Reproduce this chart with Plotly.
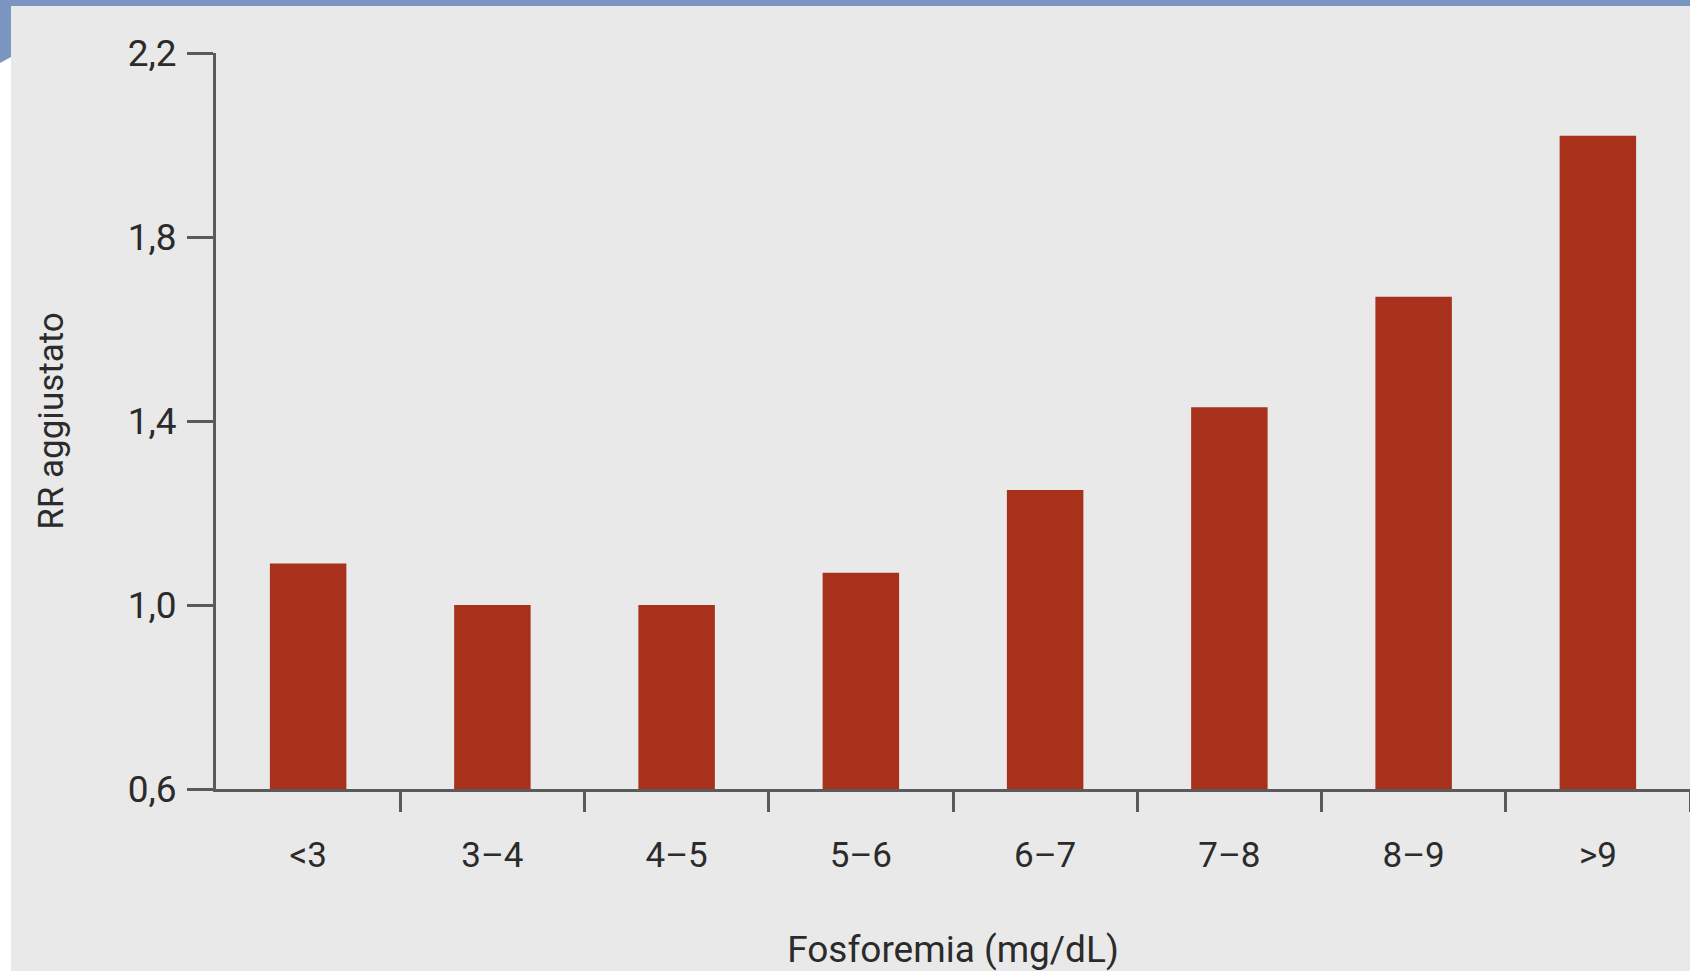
import plotly.graph_objects as go

categories = ["<3", "3–4", "4–5", "5–6", "6–7", "7–8", "8–9", ">9"]
rr_values = [1.09, 1.00, 1.00, 1.07, 1.25, 1.43, 1.67, 2.02]
y_ticks = [0.6, 1.0, 1.4, 1.8, 2.2]
y_tick_labels = ["0,6", "1,0", "1,4", "1,8", "2,2"]
# class boundaries between categories (tick marks, no labels)
boundary_ticks = [0.5, 1.5, 2.5, 3.5, 4.5, 5.5, 6.5, 7.5]

W, H = 1690, 971
L, R, T, B = 216, 0, 53, 182
PW, PH = W - L - R, H - T - B


def px(x):
    return (x - L) / PW


def py(y):
    return (H - B - y) / PH


font_family = "Roboto, 'DejaVu Sans', sans-serif"
text_color = "#2b2b2b"
axis_color = "#5a5a5a"

fig = go.Figure()
fig.add_trace(go.Bar(
    x=categories,
    y=rr_values,
    base=0,
    marker=dict(color="#a8311b", line=dict(width=0)),
    showlegend=False,
))
# helper trace so the boundary-tick axis is drawn
fig.add_trace(go.Scatter(
    x=[None], y=[None], xaxis="x2", yaxis="y",
    mode="markers", showlegend=False, hoverinfo="skip",
))

fig.update_layout(
    width=W,
    height=H,
    margin=dict(l=L, r=R, t=T, b=B, pad=0),
    paper_bgcolor="#e9e9e9",
    plot_bgcolor="#e9e9e9",
    bargap=0.585,
    font=dict(family=font_family, size=36, color=text_color),
    xaxis=dict(
        type="category",
        range=[-0.5, 7.5],
        automargin=False,
        showgrid=False,
        zeroline=False,
        showline=True,
        linecolor=axis_color,
        linewidth=3,
        ticks="",
        ticklabelstandoff=33,
        tickfont=dict(size=35, color=text_color),
        title=dict(text="Fosforemia (mg/dL)", standoff=76,
                   font=dict(size=37, color=text_color)),
    ),
    xaxis2=dict(
        overlaying="x",
        anchor="y",
        side="bottom",
        range=[-0.5, 7.5],
        automargin=False,
        tickvals=boundary_ticks,
        showticklabels=False,
        showgrid=False,
        zeroline=False,
        showline=False,
        ticks="outside",
        ticklen=22,
        tickwidth=2.5,
        tickcolor=axis_color,
    ),
    yaxis=dict(
        range=[0.6, 2.2],
        automargin=False,
        tickvals=y_ticks,
        ticktext=y_tick_labels,
        showgrid=False,
        zeroline=False,
        showline=True,
        linecolor=axis_color,
        linewidth=3,
        ticks="outside",
        ticklen=26,
        tickwidth=2.5,
        tickcolor=axis_color,
        ticklabelstandoff=3,
        tickfont=dict(size=37, color=text_color),
        title=dict(text="RR aggiustato", standoff=54,
                   font=dict(size=35, color=text_color)),
    ),
    shapes=[
        dict(type="rect", xref="paper", yref="paper",
             x0=px(0), x1=px(11), y0=py(H), y1=py(0),
             fillcolor="#ffffff", line=dict(width=0), layer="below"),
        dict(type="rect", xref="paper", yref="paper",
             x0=px(0), x1=px(W), y0=py(6), y1=py(0),
             fillcolor="#7a96c0", line=dict(width=0), layer="above"),
        dict(type="path", xref="paper", yref="paper",
             path=f"M {px(0)},{py(0)} L {px(11)},{py(0)} L {px(11)},{py(57)} L {px(0)},{py(63)} Z",
             fillcolor="#7a96c0", line=dict(width=0), layer="above"),
    ],
)

fig.write_html(
    "out.html",
    config={"displayModeBar": False},
    post_script="document.body.style.margin='0';document.body.style.overflow='hidden';",
)
